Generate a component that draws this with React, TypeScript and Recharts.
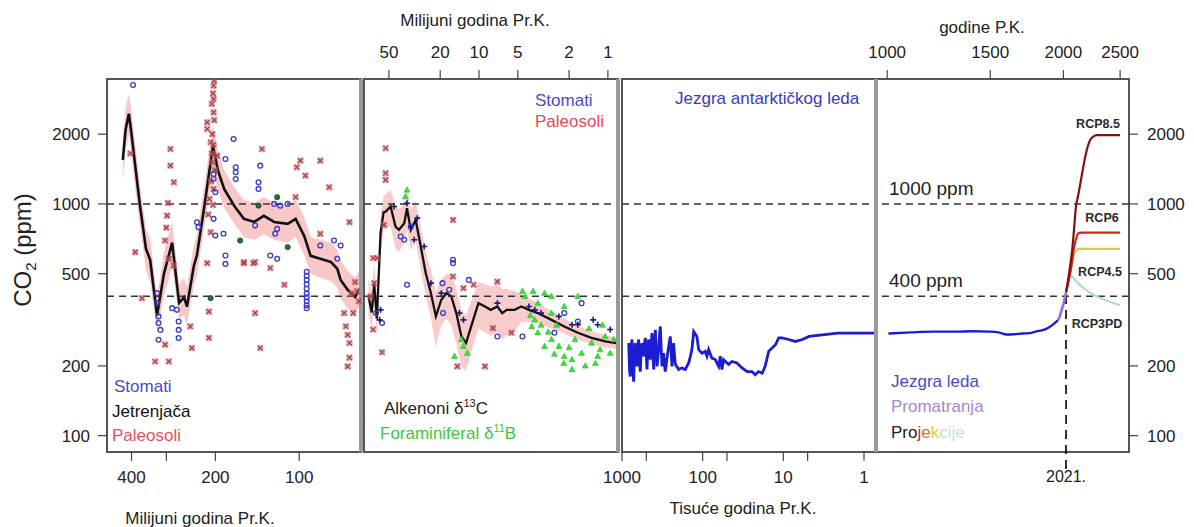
import React from 'react';
import {
  ComposedChart,
  Line,
  Area,
  Scatter,
  XAxis,
  YAxis,
  ReferenceLine,
  ReferenceArea,
} from 'recharts';

const W = 1194;
const H = 527;
const FONT = '"Liberation Sans", Arial, Helvetica, sans-serif';
const Y_DOMAIN: [number, number] = [85, 3460];
const Y_TICKS = [100, 200, 500, 1000, 2000];

// ---------- Panel 1: Phanerozoic (millions of years ago) ----------
const P1_DOMAIN: [number, number] = [60, 490];
const p1Ticks = [400, 300, 200, 100];
const p1Labels = [400, 200, 100];
const p1Ages = [430, 420, 409, 400, 389, 373, 355, 343, 324, 306, 286, 270, 259, 253, 239, 233, 219, 204, 196, 186, 171, 158, 145, 134, 123, 110, 103, 96, 91, 84, 77, 73, 71, 67, 63, 60];
const p1Fit = [1550, 2100, 2450, 2000, 1500, 980, 640, 574, 330, 500, 680, 374, 395, 360, 540, 600, 980, 1780, 1400, 1160, 980, 862, 836, 888, 836, 820, 862, 728, 597, 580, 562, 525, 470, 426, 397, 439];
const p1Lo = [1250, 1700, 2000, 1600, 1200, 800, 520, 460, 280, 400, 540, 320, 330, 300, 440, 490, 800, 1400, 1150, 960, 820, 720, 700, 740, 700, 680, 720, 600, 500, 480, 465, 435, 390, 355, 335, 370];
const p1Hi = [1900, 2600, 3000, 2500, 1850, 1200, 790, 710, 400, 620, 840, 450, 480, 440, 660, 740, 1200, 2200, 1700, 1400, 1180, 1040, 1010, 1070, 1010, 990, 1040, 880, 720, 700, 680, 635, 570, 515, 480, 530];
const p1Paleosols: [number, number][] = [
  [290, 1726], [290, 1463], [282, 1240], [298, 890], [303, 695], [294, 580], [214, 2250], [214, 2105], [208, 1845], [197, 1615],
  [136, 1726], [99, 1537], [84, 1537], [102, 1439], [95, 1325], [78, 1180], [66, 834], [388, 619], [158, 561], [144, 561],
  [84, 743], [103, 1069], [282, 542], [203, 3236], [203, 2836], [203, 2484], [205, 1513], [203, 1161], [204, 990], [208, 755],
  [367, 392], [329, 209], [294, 209], [303, 247], [243, 239], [211, 264], [211, 343], [144, 338], [138, 239], [113, 448],
  [246, 296], [69, 338], [68, 296], [67, 272], [66, 251], [66, 217], [67, 199], [64, 338], [214, 555], [158, 555],
  [146, 555], [127, 529], [202, 3400], [204, 3000], [206, 2700], [202, 2300], [205, 2000], [203, 1800], [206, 1650], [201, 1400],
  [207, 1250], [63, 460], [62, 420], [61, 380], [65, 410], [404, 1650], [300, 790], [296, 1010], [210, 1050], [212, 900],
];
const p1Stomata: [number, number][] = [
  [395, 3258], [172, 1906], [184, 1563], [169, 1439], [169, 1370], [169, 1281], [138, 1463], [140, 1240], [140, 1161], [233, 834],
  [230, 794], [187, 743], [203, 1347], [203, 1281], [200, 1123], [203, 862], [200, 730], [144, 806], [120, 780], [122, 743],
  [127, 599], [120, 580], [184, 599], [184, 551], [84, 661], [75, 695], [71, 661], [73, 580], [123, 1000], [110, 1000],
  [117, 983], [324, 412], [324, 373], [320, 327], [320, 306], [315, 286], [320, 259], [275, 349], [271, 311], [271, 286],
  [271, 264], [286, 355], [94, 510], [94, 490], [94, 470], [94, 450], [94, 430], [94, 410], [94, 395], [94, 380],
  [94, 365], [94, 355],
];
const p1Liverworts: [number, number][] = [[120, 1069], [140, 983], [163, 695], [110, 651], [208, 392]];

// ---------- Panel 2: Cenozoic (millions of years ago) ----------
const P2_DOMAIN: [number, number] = [0.835, 78];
const p2Ticks = [50, 20, 10, 5, 2, 1];
const p2Ages = [72, 68, 65, 62, 58, 55, 53, 48.5, 44.4, 41.8, 38, 36.2, 33.8, 31, 28.3, 25.9, 23.6, 21.6, 19.6, 17.9, 16.4, 15, 13.7, 12.6, 11.5, 10.1, 9.0, 8.1, 7.2, 6.6, 6.1, 5.3, 4.7, 4.1, 3.5, 2.74, 2.18, 1.71, 1.34, 1.05, 0.84];
const p2Fit = [400, 340, 450, 320, 750, 920, 926, 974, 798, 773, 826, 958, 773, 853, 655, 503, 412, 327, 386, 412, 399, 338, 268, 251, 296, 373, 361, 349, 361, 338, 349, 349, 361, 349, 338, 316, 296, 278, 264, 255, 250];
const p2Lo = [330, 290, 370, 270, 600, 760, 780, 800, 640, 620, 680, 780, 630, 700, 520, 400, 320, 240, 300, 320, 300, 250, 200, 190, 230, 290, 280, 270, 280, 260, 270, 280, 310, 310, 305, 290, 275, 260, 248, 240, 236];
const p2Hi = [480, 420, 560, 400, 900, 1080, 1100, 1150, 980, 950, 1000, 1150, 940, 1030, 800, 620, 520, 420, 470, 500, 500, 430, 350, 330, 380, 460, 450, 440, 450, 430, 430, 420, 410, 390, 375, 345, 320, 298, 282, 271, 265];
const p2Paleosols: [number, number][] = [
  [53, 1738], [53, 1356], [53, 1269], [15.9, 853], [66.3, 584], [61.7, 584], [66.3, 287], [56.5, 229], [13.2, 433], [11, 448],
  [7.2, 462], [7.8, 291], [5.6, 278], [14.7, 199], [9, 199], [15.9, 486], [65, 455], [69.5, 399], [54.6, 812],
];
const p2Stomata: [number, number][] = [
  [36.2, 448], [19.2, 455], [15.9, 555], [15.9, 574], [12, 470], [7.2, 268], [4.6, 268], [2.6, 278], [63, 338], [56.5, 306],
  [40.5, 723], [38, 700], [33.8, 798], [17, 426], [19, 338], [2.18, 338], [1.71, 311], [1.6, 373],
];
const p2Alkenones: [number, number][] = [
  [30.1, 868], [36.2, 1007], [45.6, 974], [31.8, 700], [26.6, 655], [23.6, 455], [19.6, 412], [14.2, 338], [13.2, 316], [7.2, 373],
  [4.1, 361], [3.7, 349], [3.3, 338], [2.4, 327], [1.9, 301], [1.3, 316], [1.2, 301], [0.96, 287], [1.71, 301], [58, 349], [59, 316],
];
const p2Boron: [number, number][] = [
  [36.2, 1149], [37.2, 1075], [13.7, 260], [13.2, 243], [15.5, 220], [12.3, 227], [4.4, 399], [3.5, 373], [3.1, 412], [2.74, 399],
  [3.9, 296], [3.5, 278], [3.1, 243], [2.74, 260], [2.4, 243], [2.18, 220], [1.9, 213], [1.6, 227], [1.34, 251], [1.2, 220],
  [1.05, 268], [0.96, 227], [2.18, 361], [1.71, 399], [2.74, 338], [3.7, 316], [1.9, 193], [1.5, 200], [2.2, 205], [1.15, 235],
  [4.0, 330], [3.3, 300], [2.9, 280], [2.5, 300], [1.8, 260], [1.4, 290], [1.1, 300], [0.9, 260], [4.6, 420], [3.8, 420],
  [2.0, 240], [2.6, 225], [1.25, 205],
];

// ---------- Panel 3: ice core (thousands of years ago) ----------
const P3_DOMAIN: [number, number] = [0.71, 1000];
const p3Ticks = [1000, 500, 100, 50, 10, 5, 1];
const p3Labels = [1000, 100, 10, 1];
const p3Ages = [826, 806, 788, 770, 752, 735, 717, 700, 684, 668, 652, 637, 622, 607, 593, 579, 565, 552, 539, 526, 514, 502, 490, 478, 467, 456, 446, 435, 425, 415, 405, 395, 386, 377, 368, 360, 351, 343, 335, 327, 319, 312, 305, 298, 291, 284, 277, 265, 252, 246, 240, 234, 229, 223, 218, 208, 198, 189, 180, 172, 164, 156, 149, 142, 136, 129, 118, 112, 102, 93, 88.5, 84.3, 76.7, 69.7, 63.4, 60.5, 57.7, 55, 50, 47.7, 43.3, 37.6, 32.5, 28.1, 24.5, 22.3, 20.3, 18.3, 16.8, 15.2, 13.8, 12.5, 11.4, 10.4, 8.6, 7.1, 5.8, 4.8, 3.3, 2.1, 1.3, 0.72];
const p3Co2 = [251, 190, 180, 245, 260, 200, 171, 230, 251, 215, 199, 240, 260, 210, 189, 235, 251, 230, 220, 250, 264, 230, 193, 240, 260, 225, 213, 250, 277, 240, 193, 250, 286, 240, 199, 215, 235, 270, 296, 240, 199, 210, 227, 205, 189, 200, 216, 240, 268, 230, 199, 225, 251, 220, 203, 198, 193, 195, 196, 194, 193, 200, 206, 220, 235, 281, 268, 235, 227, 231, 220, 235, 216, 213, 199, 220, 193, 213, 206, 203, 209, 206, 196, 189, 189, 183, 189, 186, 199, 231, 239, 247, 264, 264, 260, 255, 260, 268, 272, 277, 277, 277];

// ---------- Panel 4: last millennium + projections (years) ----------
const P4_DOMAIN: [number, number] = [957, 2589];
const p4TopTicks = [1000, 1500, 2000, 2500];
const p4BottomTicks = [2021];
const iceCore: [number, number][] = [[1005, 276], [1100, 279], [1200, 281], [1300, 281], [1400, 282], [1500, 281], [1550, 279], [1600, 273], [1650, 274], [1700, 276], [1750, 277], [1800, 282], [1850, 286], [1900, 296], [1930, 305], [1958, 315]];
const observed: [number, number][] = [[1958, 315], [1970, 325], [1980, 339], [1990, 354], [2000, 369], [2010, 389], [2021, 415]];
const rcp85: [number, number][] = [[2021, 415], [2040, 480], [2060, 570], [2070, 630], [2085, 770], [2100, 960], [2120, 1090], [2140, 1240], [2160, 1420], [2180, 1600], [2200, 1760], [2220, 1880], [2250, 1950], [2280, 1980], [2500, 1980]];
const rcp6: [number, number][] = [[2021, 415], [2040, 460], [2060, 520], [2082, 633], [2100, 700], [2123, 748], [2150, 752], [2500, 752]];
const rcp45: [number, number][] = [[2021, 415], [2040, 470], [2060, 530], [2080, 590], [2100, 625], [2130, 640], [2500, 640]];
const rcp3pd: [number, number][] = [[2021, 415], [2035, 460], [2050, 495], [2070, 485], [2100, 465], [2150, 440], [2200, 420], [2300, 395], [2400, 378], [2500, 366]];

const toXY = (pts: [number, number][]) => pts.map(([x, y]) => ({ x, y }));
const bandData = (ages: number[], fit: number[], lo: number[], hi: number[]) =>
  ages.map((x, i) => ({ x, y: fit[i], band: [lo[i], hi[i]] }));

const okPt = (p: any) => p && typeof p.cx === 'number' && typeof p.cy === 'number' && !isNaN(p.cx) && !isNaN(p.cy);

const XMark = (props: any) => {
  if (!okPt(props)) return <g />;
  const { cx, cy } = props;
  const s = 2.4;
  return (
    <g>
      <rect x={cx - 3.2} y={cy - 3.2} width={6.4} height={6.4} fill="#f05a6a" opacity={0.5} />
      <path d={`M${cx - s},${cy - s}L${cx + s},${cy + s}M${cx - s},${cy + s}L${cx + s},${cy - s}`} stroke="#8c4a50" strokeWidth={1.2} />
    </g>
  );
};
const OMark = (props: any) => {
  if (!okPt(props)) return <g />;
  return <circle cx={props.cx} cy={props.cy} r={2.4} fill="none" stroke="#3a3ac8" strokeWidth={1.3} />;
};
const PlusMark = (props: any) => {
  if (!okPt(props)) return <g />;
  const { cx, cy } = props;
  const s = 3;
  return <path d={`M${cx - s},${cy}L${cx + s},${cy}M${cx},${cy - s}L${cx},${cy + s}`} stroke="#1a1a7a" strokeWidth={1.6} />;
};
const GreenMark = (props: any) => {
  if (!okPt(props)) return <g />;
  const { cx, cy } = props;
  return <path d={`M${cx},${cy - 3.2}L${cx + 3},${cy + 2.2}L${cx - 3},${cy + 2.2}Z`} fill="#38e038" stroke="#2cc02c" strokeWidth={0.6} />;
};
const DarkMark = (props: any) => {
  if (!okPt(props)) return <g />;
  return <circle cx={props.cx} cy={props.cy} r={2.6} fill="#2f6a3a" stroke="#1d4a26" strokeWidth={0.8} />;
};

const tickStyle = { fontSize: 17, fill: '#222' };
const tickLineStyle = { stroke: '#444', strokeWidth: 1.2 };

const labelOnly = (list: number[]) => (v: number) => (list.includes(v) ? String(v) : '');

const frameProps = { fill: 'none', stroke: '#555', strokeWidth: 2, ifOverflow: 'visible' as const };
const dashProps = { stroke: '#333', strokeDasharray: '7 5', strokeWidth: 1.5 };
const sepProps = { stroke: '#9a9a9a', strokeWidth: 4, ifOverflow: 'visible' as const };

const layer: React.CSSProperties = { position: 'absolute', left: 0, top: 0 };

function Panel1() {
  return (
    <div style={layer}>
      <ComposedChart width={W} height={H} margin={{ top: 79, bottom: 45, left: 0, right: 833 }}>
        <XAxis xAxisId="b" dataKey="x" type="number" scale="log" domain={P1_DOMAIN} reversed allowDataOverflow
          ticks={p1Ticks} interval={0} tickFormatter={labelOnly(p1Labels)} tick={tickStyle} tickLine={tickLineStyle}
          axisLine={false} tickSize={9} tickMargin={10} height={30} />
        <YAxis dataKey="y" type="number" scale="log" domain={Y_DOMAIN} allowDataOverflow ticks={Y_TICKS} interval={0}
          tick={tickStyle} tickLine={tickLineStyle} axisLine={false} tickSize={9} tickMargin={8} width={107} />
        <Area xAxisId="b" data={bandData(p1Ages, p1Fit, p1Lo, p1Hi)} dataKey="band" type="linear" fill="#f39a9a"
          fillOpacity={0.55} stroke="none" isAnimationActive={false} />
        <Scatter xAxisId="b" data={toXY(p1Paleosols)} dataKey="y" shape={XMark} isAnimationActive={false} />
        <Scatter xAxisId="b" data={toXY(p1Stomata)} dataKey="y" shape={OMark} isAnimationActive={false} />
        <Scatter xAxisId="b" data={toXY(p1Liverworts)} dataKey="y" shape={DarkMark} isAnimationActive={false} />
        <Line xAxisId="b" data={bandData(p1Ages, p1Fit, p1Lo, p1Hi)} dataKey="y" type="linear" stroke="#111"
          strokeWidth={2.6} dot={false} isAnimationActive={false} />
        <ReferenceLine xAxisId="b" y={1000} {...dashProps} />
        <ReferenceLine xAxisId="b" y={400} {...dashProps} />
        <ReferenceArea xAxisId="b" x1={P1_DOMAIN[0]} x2={P1_DOMAIN[1]} y1={Y_DOMAIN[0]} y2={Y_DOMAIN[1]} {...frameProps} />
        <ReferenceLine xAxisId="b" x={P1_DOMAIN[0]} {...sepProps} />
      </ComposedChart>
    </div>
  );
}

function Panel2() {
  return (
    <div style={layer}>
      <ComposedChart width={W} height={H} margin={{ top: 49, bottom: 75, left: 364, right: 576 }}>
        <XAxis xAxisId="t" orientation="top" dataKey="x" type="number" scale="log" domain={P2_DOMAIN} reversed allowDataOverflow
          ticks={p2Ticks} interval={0} tick={tickStyle} tickLine={tickLineStyle} axisLine={false} tickSize={9}
          tickMargin={12} height={30} />
        <YAxis hide dataKey="y" type="number" scale="log" domain={Y_DOMAIN} allowDataOverflow />
        <Area xAxisId="t" data={bandData(p2Ages, p2Fit, p2Lo, p2Hi)} dataKey="band" type="linear" fill="#f39a9a"
          fillOpacity={0.5} stroke="none" isAnimationActive={false} />
        <Scatter xAxisId="t" data={toXY(p2Boron)} dataKey="y" shape={GreenMark} isAnimationActive={false} />
        <Scatter xAxisId="t" data={toXY(p2Paleosols)} dataKey="y" shape={XMark} isAnimationActive={false} />
        <Scatter xAxisId="t" data={toXY(p2Stomata)} dataKey="y" shape={OMark} isAnimationActive={false} />
        <Scatter xAxisId="t" data={toXY(p2Alkenones)} dataKey="y" shape={PlusMark} isAnimationActive={false} />
        <Line xAxisId="t" data={bandData(p2Ages, p2Fit, p2Lo, p2Hi)} dataKey="y" type="linear" stroke="#111"
          strokeWidth={2.3} dot={false} isAnimationActive={false} />
        <ReferenceLine xAxisId="t" y={1000} {...dashProps} />
        <ReferenceLine xAxisId="t" y={400} {...dashProps} />
        <ReferenceArea xAxisId="t" x1={P2_DOMAIN[0]} x2={P2_DOMAIN[1]} y1={Y_DOMAIN[0]} y2={Y_DOMAIN[1]} {...frameProps} />
        <ReferenceLine xAxisId="t" x={P2_DOMAIN[0]} {...sepProps} />
      </ComposedChart>
    </div>
  );
}

function Panel3() {
  return (
    <div style={layer}>
      <ComposedChart width={W} height={H} margin={{ top: 79, bottom: 45, left: 622, right: 318 }}>
        <XAxis xAxisId="b" dataKey="x" type="number" scale="log" domain={P3_DOMAIN} reversed allowDataOverflow
          ticks={p3Ticks} interval={0} tickFormatter={labelOnly(p3Labels)} tick={tickStyle} tickLine={tickLineStyle}
          axisLine={false} tickSize={9} tickMargin={10} height={30} />
        <YAxis hide dataKey="y" type="number" scale="log" domain={Y_DOMAIN} allowDataOverflow />
        <Line xAxisId="b" data={p3Ages.map((x, i) => ({ x, y: p3Co2[i] }))} dataKey="y" type="linear" stroke="#1c1cd0"
          strokeWidth={2.8} dot={false} isAnimationActive={false} />
        <ReferenceLine xAxisId="b" y={1000} {...dashProps} />
        <ReferenceLine xAxisId="b" y={400} {...dashProps} />
        <ReferenceArea xAxisId="b" x1={P3_DOMAIN[0]} x2={P3_DOMAIN[1]} y1={Y_DOMAIN[0]} y2={Y_DOMAIN[1]} {...frameProps} />
        <ReferenceLine xAxisId="b" x={P3_DOMAIN[0]} {...sepProps} />
      </ComposedChart>
    </div>
  );
}

const ppmLabel = (text: string) => (props: any) => {
  const vb = props.viewBox || {};
  return (
    <text x={(vb.x || 0) + 13} y={(vb.y || 0) - 9} fontSize={19} fill="#222">
      {text}
    </text>
  );
};

function Panel4() {
  return (
    <div style={layer}>
      <ComposedChart width={W} height={H} margin={{ top: 49, bottom: 45, left: 876, right: 0 }}>
        <XAxis xAxisId="t" orientation="top" dataKey="x" type="number" scale="log" domain={P4_DOMAIN} allowDataOverflow
          ticks={p4TopTicks} interval={0} tick={tickStyle} tickLine={tickLineStyle} axisLine={false} tickSize={9}
          tickMargin={12} height={30} />
        <XAxis xAxisId="b" dataKey="x" type="number" scale="log" domain={P4_DOMAIN} allowDataOverflow
          ticks={p4BottomTicks} interval={0} tickFormatter={(v: number) => `${v}.`} tick={{ fontSize: 16, fill: '#222' }}
          tickLine={false} axisLine={false} tickSize={9} tickMargin={10} height={30} />
        <YAxis orientation="right" dataKey="y" type="number" scale="log" domain={Y_DOMAIN} allowDataOverflow ticks={Y_TICKS}
          interval={0} tick={tickStyle} tickLine={tickLineStyle} axisLine={false} tickSize={9} tickMargin={9} width={65} />
        <ReferenceLine xAxisId="t" y={1000} {...dashProps} label={ppmLabel('1000 ppm')} />
        <ReferenceLine xAxisId="t" y={400} {...dashProps} label={ppmLabel('400 ppm')} />
        <ReferenceLine xAxisId="t" segment={[{ x: 2021, y: 405 }, { x: 2021, y: 71 }]} ifOverflow="visible"
          stroke="#000" strokeWidth={1.6} strokeDasharray="9 6" />
        <Line xAxisId="t" data={toXY(rcp3pd)} dataKey="y" type="monotone" stroke="#a9d6de" strokeWidth={2}
          dot={false} isAnimationActive={false} />
        <Line xAxisId="t" data={toXY(rcp45)} dataKey="y" type="monotone" stroke="#dccb4a" strokeWidth={2.2}
          dot={false} isAnimationActive={false} />
        <Line xAxisId="t" data={toXY(rcp6)} dataKey="y" type="monotone" stroke="#dc2020" strokeWidth={2.2}
          dot={false} isAnimationActive={false} />
        <Line xAxisId="t" data={toXY(rcp85)} dataKey="y" type="monotone" stroke="#7a1414" strokeWidth={2.2}
          dot={false} isAnimationActive={false} />
        <Line xAxisId="t" data={toXY(iceCore)} dataKey="y" type="monotone" stroke="#1c1cd0" strokeWidth={2.4}
          dot={false} isAnimationActive={false} />
        <Line xAxisId="t" data={toXY(observed)} dataKey="y" type="monotone" stroke="#9a6ad8" strokeWidth={2.6}
          dot={false} isAnimationActive={false} />
        <ReferenceArea xAxisId="t" x1={P4_DOMAIN[0]} x2={P4_DOMAIN[1]} y1={Y_DOMAIN[0]} y2={Y_DOMAIN[1]} {...frameProps} />
        <ReferenceLine xAxisId="t" x={P4_DOMAIN[0]} {...sepProps} />
      </ComposedChart>
    </div>
  );
}

function Annotations() {
  return (
    <svg width={W} height={H} style={{ ...layer, pointerEvents: 'none' }} fontFamily={FONT}>
      <text transform="translate(31,250) rotate(-90)" textAnchor="middle" fontSize={24} fill="#222">
        <tspan>CO</tspan>
        <tspan fontSize={15} dy={5}>2</tspan>
        <tspan dy={-5}> (ppm)</tspan>
      </text>
      <text x={200} y={524} textAnchor="middle" fontSize={17} fill="#222">Milijuni godina Pr.K.</text>
      <text x={475} y={26} textAnchor="middle" fontSize={17} fill="#222">Milijuni godina Pr.K.</text>
      <text x={743} y={514} textAnchor="middle" fontSize={17} fill="#222">Tisuće godina Pr.K.</text>
      <text x={982} y={33} textAnchor="middle" fontSize={17} fill="#222">godine P.K.</text>
      <text x={114} y={392} fontSize={17} fill="#4a4ac8">Stomati</text>
      <text x={112} y={417} fontSize={17} fill="#111">Jetrenjača</text>
      <text x={112} y={441} fontSize={17} fill="#e8505e">Paleosoli</text>
      <text x={535} y={106} fontSize={17} fill="#4a4ac8">Stomati</text>
      <text x={535} y={127} fontSize={17} fill="#ee4458">Paleosoli</text>
      <text x={384} y={414} fontSize={17} fill="#222">
        Alkenoni δ<tspan fontSize={11} dy={-7}>13</tspan><tspan dy={7}>C</tspan>
      </text>
      <text x={380} y={439} fontSize={17} fill="#3cc83c">
        Foraminiferal δ<tspan fontSize={11} dy={-7}>11</tspan><tspan dy={7}>B</tspan>
      </text>
      <text x={675} y={104} fontSize={17} fill="#3a3ac0">Jezgra antarktičkog leda</text>
      <text x={891} y={387} fontSize={17} fill="#4a4ac8">Jezgra leda</text>
      <text x={891} y={412} fontSize={17} fill="#a586d8">Promatranja</text>
      <text x={891} y={438} fontSize={17}>
        <tspan fill="#222">Pro</tspan>
        <tspan fill="#d02828">j</tspan>
        <tspan fill="#e86a2a">e</tspan>
        <tspan fill="#e8cc40">k</tspan>
        <tspan fill="#c6e6a0">c</tspan>
        <tspan fill="#bfe0e6">ije</tspan>
      </text>
      <text x={1098} y={128} textAnchor="middle" fontSize={12.5} fontWeight="bold" fill="#2a2a2a">RCP8.5</text>
      <text x={1102} y={222} textAnchor="middle" fontSize={12.5} fontWeight="bold" fill="#2a2a2a">RCP6</text>
      <text x={1100} y={276} textAnchor="middle" fontSize={12.5} fontWeight="bold" fill="#2a2a2a">RCP4.5</text>
      <text x={1097} y={328} textAnchor="middle" fontSize={12.5} fontWeight="bold" fill="#2a2a2a">RCP3PD</text>
    </svg>
  );
}

export default function App() {
  return (
    <div style={{ position: 'absolute', left: 0, top: 0, width: W, height: H, background: '#fff', fontFamily: FONT }}>
      <Panel1 />
      <Panel2 />
      <Panel3 />
      <Panel4 />
      <Annotations />
    </div>
  );
}
